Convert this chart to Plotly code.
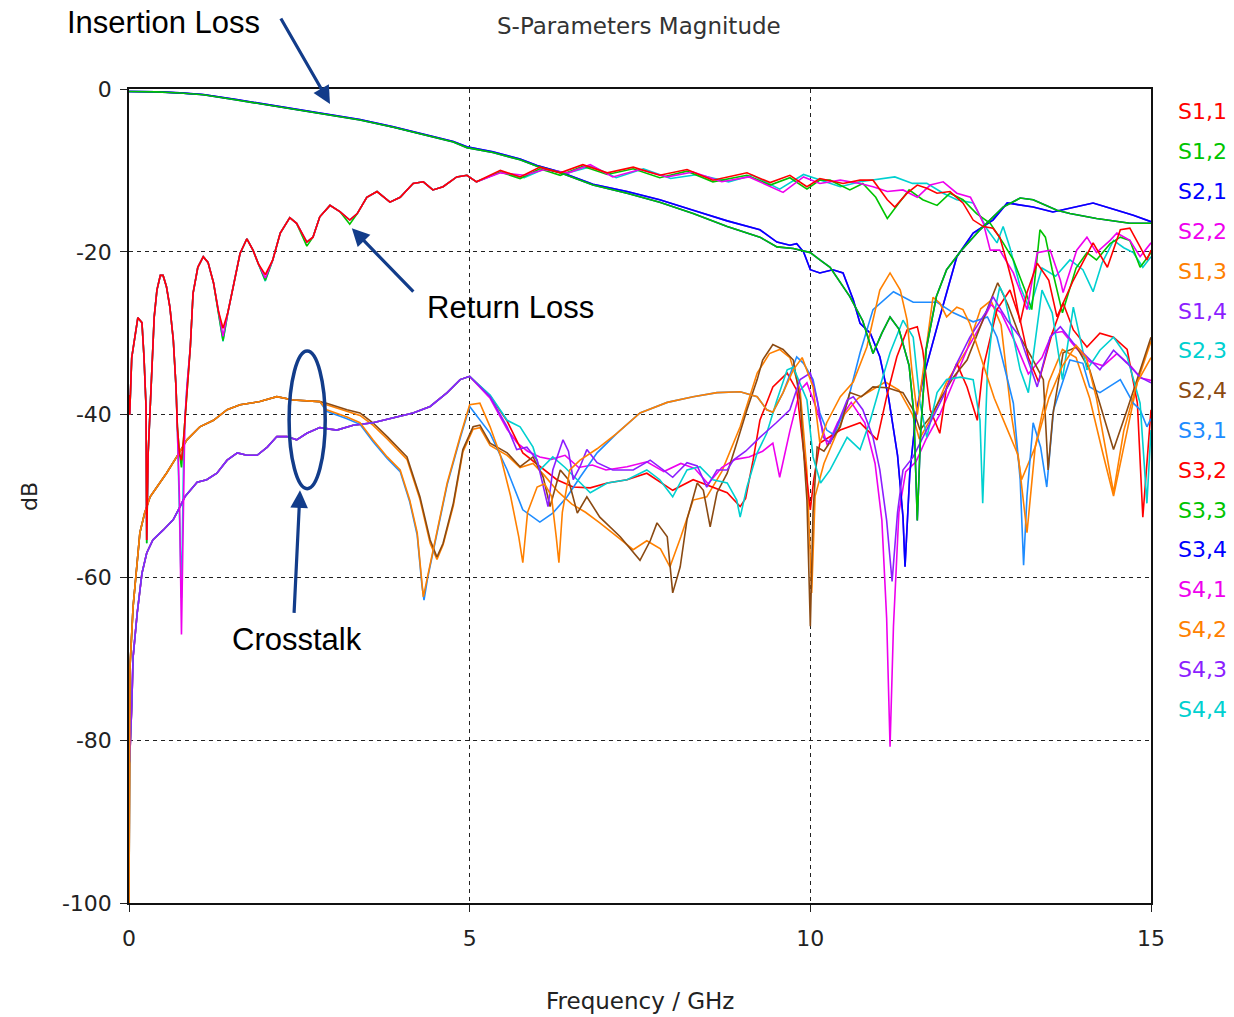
import plotly.graph_objects as go

# ---------------------------------------------------------------------------
# S-parameter magnitudes (dB) versus frequency (GHz)
# ---------------------------------------------------------------------------

# Return loss, low band (shared frequency grid)
RL_F_LOW = [0, 0.01, 0.04, 0.09, 0.13, 0.19, 0.22, 0.25, 0.26, 0.28, 0.31, 0.34, 0.37, 0.41, 0.46, 0.5,
            0.55, 0.6, 0.65, 0.69, 0.71, 0.74, 0.77, 0.8, 0.82, 0.85, 0.9, 0.94, 1.01, 1.09, 1.16, 1.24,
            1.31, 1.38, 1.45, 1.53, 1.63, 1.73, 1.82, 1.9, 2.0, 2.11, 2.22, 2.36, 2.46, 2.61, 2.7, 2.8,
            2.95, 3.1, 3.24, 3.35, 3.49, 3.64, 3.83, 3.98, 4.17, 4.32, 4.46, 4.61, 4.81, 4.96, 5.1]
S11_DB_LOW = [-37.6, -40, -33, -30, -28.1, -28.7, -32.9, -39, -55.4, -45, -39.8, -34.9, -28, -24.7, -22.9, -22.9,
              -24.3, -26.8, -30.8, -36.6, -41.5, -44.7, -45.6, -43.1, -40.7, -36.6, -31.7, -25.1, -21.9, -20.6, -21.3, -23.8,
              -27.2, -29.4, -27.5, -24.3, -20.2, -18.4, -19.8, -21.5, -22.8, -21, -17.7, -15.8, -16.5, -18.8, -18.2, -15.7,
              -14.3, -15.1, -16.1, -15.3, -13.3, -12.6, -13.9, -13.3, -11.6, -11.4, -12.4, -12, -10.8, -10.6, -11.4]
S33_DB_LOW = [-37.6, -40, -33, -30, -28.1, -28.7, -32.9, -39, -55.8, -45, -39.8, -34.9, -28, -24.7, -22.9, -22.9,
              -24.3, -26.8, -30.8, -36.6, -41.5, -44.7, -46.5, -43.1, -40.7, -36.6, -31.7, -25.1, -21.9, -20.6, -21.3, -23.8,
              -27.2, -30.9, -27.5, -24.3, -20.2, -18.4, -19.8, -21.5, -23.5, -21, -17.7, -15.8, -16.5, -19.3, -18.2, -15.7,
              -14.3, -15.1, -16.6, -15.3, -13.3, -12.6, -13.9, -13.3, -11.6, -11.4, -12.4, -12, -10.8, -10.6, -11.4]
S22_DB_LOW = [-37.6, -40, -33, -30, -28.1, -28.7, -32.9, -39, -55.4, -45, -39.8, -34.9, -28, -24.7, -22.9, -22.9,
              -24.3, -26.8, -30.8, -36.6, -41.5, -50, -67, -48, -40.7, -36.6, -31.7, -25.1, -21.9, -20.6, -21.3, -23.8,
              -27.2, -30.4, -27.5, -24.3, -20.2, -18.4, -19.8, -21.5, -23.2, -21, -17.7, -15.8, -16.5, -18.8, -18.2, -15.7,
              -14.3, -15.1, -16.1, -15.3, -13.3, -12.6, -13.9, -13.3, -11.6, -11.4, -12.4, -12, -10.8, -10.6, -11.4]
S44_DB_LOW = [-37.6, -40, -33, -30, -28.1, -28.7, -32.9, -39, -55.8, -45, -39.8, -34.9, -28, -24.7, -22.9, -22.9,
              -24.3, -26.8, -30.8, -36.6, -41.5, -52, -62.5, -46, -40.7, -36.6, -31.7, -25.1, -21.9, -20.6, -21.3, -23.8,
              -27.2, -31.0, -27.5, -24.3, -20.2, -18.4, -19.8, -21.5, -23.6, -21, -17.7, -15.8, -16.5, -18.8, -18.2, -15.7,
              -14.3, -15.1, -16.1, -15.3, -13.3, -12.6, -13.9, -13.3, -11.6, -11.4, -12.4, -12, -10.8, -10.6, -11.4]

# Return loss, high band
S11_F_HIGH = [5.45, 5.74, 6.03, 6.33, 6.66, 7.02, 7.4, 7.79, 8.19, 8.57, 9.07, 9.41, 9.7, 9.95, 10.14, 10.48,
              10.73, 10.92, 11.13, 11.24, 11.42, 11.57, 11.71, 11.86, 12.05, 12.24, 12.39, 12.54, 12.68, 12.78,
              12.89, 12.98, 13.08, 13.18, 13.33, 13.5, 13.62, 13.86, 14.15, 14.36, 14.55, 14.69, 14.84, 14.94, 15.0]
S11_DB_HIGH = [-10, -10.8, -9.6, -10.3, -9.3, -10.3, -9.6, -10.6, -9.9, -11.2, -10.3, -11.5, -10.6, -12, -11, -11.6,
               -11.2, -11.2, -13.6, -14.5, -12.8, -11.8, -12.2, -12.8, -12.6, -14.0, -16.1, -16.9, -17.1, -18.2,
               -21.4, -24.3, -28.7, -25, -21.4, -23.5, -28, -23.5, -18.9, -21.9, -17.3, -17.1, -19.4, -21, -19.8]
S33_F_HIGH = [5.45, 5.74, 6.03, 6.33, 6.66, 7.02, 7.4, 7.79, 8.19, 8.57, 9.07, 9.41, 9.7, 9.95, 10.14, 10.29,
              10.58, 10.77, 10.96, 11.13, 11.3, 11.45, 11.65, 11.86, 12.05, 12.24, 12.44, 12.64, 12.83, 12.98,
              13.15, 13.25, 13.37, 13.45, 13.55, 13.7, 13.9, 14.06, 14.2, 14.4, 14.55, 14.69, 14.84, 15.0]
S33_DB_HIGH = [-10.2, -11.0, -9.8, -10.6, -9.5, -10.5, -9.8, -10.9, -10.1, -11.4, -10.6, -11.8, -10.9, -12.3, -11.2, -11.2,
               -12.4, -11.6, -13.3, -15.9, -14, -12.4, -13.6, -14.3, -12.8, -13.6, -15.3, -16.5, -18.9, -21,
               -24.7, -27.1, -17.3, -18.2, -22.2, -27.5, -22, -20.1, -21, -19, -18.2, -18.6, -21.9, -20.1]
S22_F_HIGH = [5.45, 5.8, 6.1, 6.45, 6.77, 7.1, 7.5, 7.9, 8.28, 8.7, 9.1, 9.6, 9.9, 10.14, 10.44, 10.73,
              10.92, 11.13, 11.36, 11.57, 11.76, 11.95, 12.15, 12.35, 12.45, 12.54, 12.64, 12.78, 12.98, 13.18,
              13.33, 13.52, 13.67, 13.71, 13.91, 14.06, 14.2, 14.4, 14.5, 14.69, 14.84, 15.0]
S22_DB_HIGH = [-10.3, -10.6, -9.9, -10.3, -9.3, -10.8, -9.9, -10.8, -10.2, -11.4, -10.8, -12.7, -10.8, -11.6, -11.2, -11.6,
               -12.0, -12.6, -12.4, -13.3, -11.8, -11.4, -12.8, -13.3, -14.9, -16.5, -19.8, -19.8, -22.6, -27.1,
               -20.1, -19.8, -23.5, -25, -19.8, -18.2, -20.1, -18.6, -17.7, -18.6, -20.6, -18.9]
S44_F_HIGH = [5.45, 5.8, 6.1, 6.4, 6.8, 7.15, 7.55, 7.95, 8.35, 8.8, 9.15, 9.55, 9.9, 10.14, 10.44, 10.73,
              11.05, 11.24, 11.5, 11.71, 11.95, 12.15, 12.39, 12.6, 12.74, 12.83, 12.93, 13.08, 13.22, 13.4,
              13.6, 13.81, 14.0, 14.15, 14.28, 14.45, 14.6, 14.74, 14.88, 15.0]
S44_DB_HIGH = [-10.2, -10.9, -9.8, -10.4, -9.5, -10.9, -9.8, -11.0, -10.5, -11.4, -10.6, -12.3, -10.5, -11.2, -12.0, -11.4,
               -11.0, -10.8, -11.6, -11.6, -12.8, -13.6, -14.0, -17.3, -18.9, -16.9, -19.5, -24.3, -27.1, -22.0,
               -23.0, -21.0, -22.2, -24.9, -21.4, -18.6, -19.5, -20.1, -21.9, -20.6]

# Insertion loss
IL_A_F = [0, 0.4, 0.75, 1.09, 1.58, 2.07, 2.55, 3.0, 3.39, 3.88, 4.37, 4.76, 4.96, 5.15, 5.34, 5.74,
          5.99, 6.33, 6.81, 7.31, 7.79, 8.28, 8.78, 9.26, 9.51, 9.75, 10.0, 10.14, 10.29, 10.58, 10.77,
          10.92, 11.05, 11.17, 11.3, 11.45, 11.52, 11.57, 11.62, 11.7, 11.85, 12.0, 12.2, 12.49, 12.83,
          13.08, 13.27, 13.62, 13.81, 14.2, 14.69, 15.0]
IL_A_DB = [-0.3, -0.35, -0.5, -0.7, -1.35, -2.0, -2.6, -3.2, -3.8, -4.7, -5.7, -6.5, -7.2, -7.5, -7.8, -8.7,
           -9.5, -10.3, -11.8, -12.8, -13.9, -15.3, -16.9, -18.2, -19.4, -19.6, -20.1, -21.0, -21.9, -25.5, -28.5,
           -32.5, -30, -28, -29.5, -34, -40, -53, -42, -32, -25.5, -22.2, -20, -17.3, -14.5,
           -13.4, -13.6, -14.9, -15.3, -15.9, -16.5, -16.5]
IL_B_F = [0, 0.4, 0.75, 1.09, 1.58, 2.07, 2.55, 3.0, 3.39, 3.88, 4.37, 4.76, 4.96, 5.15, 5.34, 5.74,
          5.99, 6.33, 6.81, 7.31, 7.79, 8.28, 8.78, 9.26, 9.51, 9.7, 9.8, 9.9, 10.0, 10.14, 10.33,
          10.48, 10.63, 10.73, 10.88, 11.02, 11.15, 11.28, 11.36, 11.39, 11.42, 11.46, 11.55, 11.65, 11.9,
          12.15, 12.39, 12.68, 12.89, 13.27, 13.56, 13.86, 14.15, 14.5, 14.74, 15.0]
IL_B_DB = [-0.3, -0.33, -0.48, -0.68, -1.3, -1.95, -2.55, -3.15, -3.75, -4.65, -5.65, -6.45, -7.1, -7.4, -7.7, -8.6,
           -9.4, -10.2, -11.7, -12.6, -13.6, -14.9, -16.2, -17.3, -18.8, -19.2, -19.0, -20.0, -22.2, -22.6, -22.2,
           -22.6, -25.9, -28.8, -30, -32.9, -38, -45, -52.6, -58.7, -53, -47.2, -40, -35.7, -28,
           -20.6, -17.7, -16.1, -14, -14.5, -15.1, -14.5, -14.0, -14.9, -15.5, -16.3]

# Crosstalk pairs (1-3 / 2-4 family), shared low band
XT_OB_F_LOW = [0, 0.015, 0.06, 0.12, 0.16, 0.23, 0.31, 0.41, 0.55, 0.7, 0.85, 1.04, 1.24, 1.44, 1.63,
               1.92, 2.17, 2.41, 2.8]
XT_OB_DB_LOW = [-100, -71, -63.6, -57.9, -54.5, -52.1, -50.1, -48.9, -47.2, -45.2, -43.1, -41.5, -40.7, -39.4, -38.8,
                -38.4, -37.8, -38.2, -38.4]

S13_F = [2.9, 3.2, 3.39, 3.58, 3.79, 3.98, 4.12, 4.23, 4.3, 4.32, 4.38, 4.52, 4.67, 4.86, 5.0, 5.15,
         5.3, 5.45, 5.6, 5.72, 5.78, 5.85, 5.99, 6.1, 6.2, 6.27, 6.31, 6.36, 6.47, 6.62, 6.87, 7.16,
         7.5, 7.9, 8.28, 8.63, 8.97, 9.22, 9.36, 9.45, 9.6, 9.75, 9.88, 10.04, 10.14, 10.24, 10.44, 10.63,
         10.83, 11.02, 11.17, 11.32, 11.42, 11.49, 11.57, 11.65, 11.8, 11.9, 12.0, 12.15, 12.24, 12.34,
         12.5, 12.7, 12.9, 13.05, 13.18, 13.3, 13.5, 13.7, 13.9, 14.05, 14.2, 14.35, 14.45, 14.6, 14.8, 15.0]
S13_DB = [-39.4, -40.3, -41, -43.1, -45.2, -46.8, -50.5, -54.5, -60.7, -62.4, -60, -54.5, -48.4, -42.7, -38.8, -38.6,
          -41.5, -45, -50, -55, -58.2, -52, -48.9, -48.5, -50, -55, -58.2, -52, -46.8, -45.6, -44.2, -42.3,
          -39.8, -38.5, -37.8, -37.3, -37.2, -37.8, -39.4, -39.7, -37.3, -34.5, -33.0, -36.6, -43.5, -41, -37.8, -36,
          -31.7, -24.7, -22.6, -24.7, -28.4, -34.5, -40, -35, -25.6, -26.3, -28, -26.8, -27.1, -28.8,
          -33, -38, -42, -45, -54.5, -44, -38, -34, -31.5, -33, -38, -45, -49.6, -42, -36, -33]

S31_F = [2.9, 3.2, 3.39, 3.58, 3.79, 3.98, 4.12, 4.23, 4.3, 4.33, 4.38, 4.52, 4.67, 4.86, 5.0, 5.3,
         5.55, 5.78, 6.03, 6.22, 6.43, 6.62, 6.87, 7.16, 7.5, 7.9, 8.28, 8.63, 8.97, 9.22, 9.36, 9.45,
         9.6, 9.8, 9.9, 10.04, 10.14, 10.24, 10.35, 10.54, 10.73, 10.92, 11.22, 11.51, 11.86, 12.1, 12.39,
         12.6, 12.74, 12.98, 13.08, 13.13, 13.18, 13.27, 13.38, 13.47, 13.57, 13.81, 14.0, 14.1, 14.25,
         14.55, 14.74, 14.84, 14.94, 15.0]
S31_DB = [-39.6, -40.5, -41.2, -43.3, -45.4, -47, -50.7, -54.8, -61, -62.8, -60.2, -54.7, -48.6, -42.9, -39, -42.3,
          -46.8, -51.7, -53.2, -52.1, -50.1, -47.7, -44.7, -42.3, -39.8, -38.5, -37.8, -37.3, -37.2, -37.8, -39.4, -39.7,
          -37.3, -32.9, -33.7, -35.7, -39.8, -41.9, -42.5, -38.6, -32.4, -27.1, -24.9, -26.2, -26.2, -27.5, -28.6,
          -28, -30.5, -38.6, -48, -58.5, -50, -41, -44, -48.9, -39.4, -33.3, -33.7, -36.6, -37.3,
          -35.7, -38.6, -39.4, -41.5, -40.5]

S24_F = [2.9, 3.2, 3.39, 3.58, 3.79, 4.08, 4.27, 4.42, 4.52, 4.61, 4.76, 4.9, 5.05, 5.15, 5.3, 5.55,
         5.74, 5.93, 6.08, 6.18, 6.33, 6.45, 6.58, 6.72, 6.91, 7.21, 7.5, 7.65, 7.75, 7.9, 7.98, 8.09,
         8.19, 8.34, 8.43, 8.53, 8.63, 8.78, 8.92, 9.07, 9.22, 9.3, 9.45, 9.6, 9.75, 9.85, 9.95, 10.0,
         10.04, 10.1, 10.2, 10.44, 10.58, 10.75, 10.92, 11.13, 11.36, 11.51, 11.61, 11.76, 11.9, 12.1,
         12.3, 12.5, 12.75, 12.9, 13.08, 13.25, 13.42, 13.49, 13.56, 13.71, 13.91, 14.1, 14.25, 14.45,
         14.65, 14.84, 15.0]
S24_DB = [-38.6, -39.4, -39.8, -41, -42.7, -45.2, -50.1, -55.4, -57.5, -55.8, -50.9, -44.3, -41.5, -41.3, -43.5, -44.7,
          -46.4, -45.2, -47.7, -51.3, -46.8, -48, -52.1, -50.1, -52.6, -55.0, -57.9, -55.5, -53.3, -55, -61.9, -58.7,
          -52.9, -48.4, -49.3, -53.8, -49.6, -47.2, -43.5, -39.4, -35.7, -33.3, -31.4, -32.0, -33.3, -38.2, -50.5, -66,
          -52, -44, -44.5, -41.5, -37.3, -37.8, -36.6, -36.7, -37.3, -39.4, -41.9, -40.3, -38.2, -35.4,
          -33.3, -29, -23.8, -26.5, -30.5, -33, -35.7, -46.8, -40, -32.4, -31.7, -34.5, -38.6, -44.3,
          -39.4, -34.5, -30.5]

S42_F = [2.9, 3.2, 3.39, 3.58, 3.79, 4.08, 4.27, 4.42, 4.52, 4.61, 4.76, 4.9, 5.05, 5.15, 5.3, 5.55,
         5.74, 5.93, 6.1, 6.3, 6.5, 6.7, 6.91, 7.21, 7.4, 7.6, 7.8, 7.94, 8.1, 8.28, 8.48, 8.7,
         8.97, 9.22, 9.4, 9.55, 9.7, 9.85, 9.95, 10.02, 10.07, 10.2, 10.5, 10.7, 10.9, 11.1, 11.3,
         11.5, 11.6, 11.8, 12.0, 12.3, 12.5, 12.65, 12.8, 12.95, 13.1, 13.3, 13.5, 13.7, 13.9, 14.1,
         14.3, 14.45, 14.6, 14.8, 15.0]
S42_DB = [-38.8, -39.6, -40.1, -41.3, -43, -45.5, -50.4, -55.8, -57.8, -56, -51.2, -44.6, -41.8, -41.6, -43.8, -45,
          -46.5, -46, -47.5, -49.5, -51, -52, -53.3, -55.3, -56.6, -55.5, -56.5, -58.7, -55, -50.5, -50.1, -47,
          -41.5, -34.9, -32.5, -32, -33, -37, -47, -61.9, -50, -46, -40, -38, -37, -36, -37,
          -40, -43, -40, -36, -32, -27, -26, -29, -40, -48, -44, -36, -32, -33, -38,
          -45, -50, -44, -36, -31]

# Crosstalk pairs (1-4 / 2-3 family), shared low band
XT_A_F_LOW = [0, 0.01, 0.04, 0.06, 0.12, 0.19, 0.26, 0.35, 0.5, 0.65, 0.75, 0.82, 0.9, 1.0, 1.14, 1.29,
              1.44, 1.59, 1.73, 1.88, 2.03, 2.17, 2.32, 2.46, 2.61, 2.8, 3.05, 3.29, 3.58, 3.88, 4.17,
              4.42, 4.67, 4.86, 5.0]
XT_A_DB_LOW = [-83, -82.4, -75.9, -69.8, -64.4, -59.5, -57, -55.4, -54.2, -52.9, -51.3, -50.1, -49.3, -48.3, -48, -47.2,
               -45.6, -44.7, -45, -45, -44, -42.7, -42.7, -43.1, -42.3, -41.6, -41.9, -41.3, -41, -40.4, -39.8,
               -39, -37.3, -35.7, -35.3]

S14_F = [5.3, 5.55, 5.69, 5.84, 5.99, 6.08, 6.15, 6.22, 6.37, 6.45, 6.52, 6.62, 6.72, 6.87, 7.1, 7.4,
         7.65, 7.84, 7.98, 8.19, 8.34, 8.48, 8.63, 8.78, 8.87, 9.05, 9.26, 9.5, 9.7, 9.85, 10.0, 10.1,
         10.19, 10.29, 10.54, 10.63, 10.77, 10.92, 11.02, 11.12, 11.2, 11.28, 11.36, 11.51, 11.65, 11.8,
         11.95, 12.15, 12.34, 12.6, 12.68, 12.89, 13.08, 13.33, 13.52, 13.67, 13.86, 14.06, 14.25, 14.45,
         14.65, 14.84, 15.0]
S14_DB = [-37.8, -41.5, -44.3, -44, -45.6, -48.9, -51.3, -46.8, -43.1, -44.5, -48, -46.4, -44.3, -45.9, -46.8, -46.8,
          -45.6, -46.8, -47.7, -45.9, -46.3, -48.9, -46.8, -46.8, -45.6, -44.5, -42.8, -41, -39.4, -35.7, -34.9, -38.2,
          -42.8, -43.5, -38.2, -37.8, -39.4, -42.8, -46.8, -53, -60.5, -52, -46.8, -45.2, -42.8, -40.3,
          -37.8, -33.7, -30.5, -27.1, -25.5, -28.4, -30.5, -36.6, -30.5, -29.2, -31.2, -32.9, -34.5, -32.1,
          -33.7, -35.4, -36.1]

S41_F = [5.3, 5.55, 5.7, 5.85, 6.03, 6.2, 6.4, 6.6, 6.8, 7.0, 7.31, 7.6, 7.85, 8.1, 8.3, 8.5,
         8.7, 8.9, 9.1, 9.3, 9.45, 9.55, 9.7, 9.85, 9.95, 10.1, 10.25, 10.4, 10.6, 10.8, 10.95, 11.05,
         11.12, 11.17, 11.22, 11.3, 11.4, 11.55, 11.7, 11.9, 12.1, 12.3, 12.5, 12.65, 12.8, 13.0, 13.2,
         13.4, 13.55, 13.7, 13.9, 14.1, 14.3, 14.5, 14.7, 14.85, 15.0]
S41_DB = [-38.0, -41.8, -43.5, -44.5, -45.2, -45.5, -45, -46.5, -46.2, -46.8, -46.4, -45.8, -47, -46, -46.6, -48.5,
          -46.5, -45.5, -45.2, -44.5, -43.5, -47.7, -42, -37, -36.1, -39.5, -43.8, -41, -38.5, -41, -46, -53,
          -65, -80.8, -66, -52, -47, -45.8, -43, -40, -36, -32, -29, -26.5, -27.5, -31, -35,
          -33, -30, -29.8, -31.8, -33.5, -34, -32.5, -34, -35.5, -35.8]

S23_F = [5.3, 5.55, 5.74, 5.93, 6.03, 6.22, 6.4, 6.62, 6.77, 7.02, 7.31, 7.6, 7.79, 7.98, 8.19, 8.38,
         8.57, 8.78, 8.92, 8.97, 9.07, 9.22, 9.36, 9.51, 9.66, 9.75, 9.95, 10.04, 10.15, 10.29, 10.54,
         10.73, 10.88, 11.02, 11.17, 11.36, 11.51, 11.61, 11.71, 11.86, 12.0, 12.2, 12.39, 12.49, 12.53,
         12.6, 12.68, 12.78, 12.85, 12.98, 13.08, 13.2, 13.4, 13.55, 13.7, 13.86, 14.06, 14.25, 14.45,
         14.65, 14.84, 14.94, 15.0]
S23_DB = [-37.6, -40.7, -41.5, -44, -46.8, -45.2, -46.5, -48.4, -49.6, -48.4, -48, -46.8, -48, -50.1, -46.8, -46.4,
          -48, -48.4, -50.5, -52.6, -48.9, -44.7, -42.3, -38.2, -34.5, -34.2, -38.2, -45.2, -48.4, -46.8, -42.8,
          -44.3, -40.7, -36.6, -32.4, -28.4, -30.5, -38.6, -42.8, -37.3, -35.7, -35.4, -35.7, -40.7, -50.9,
          -34.5, -28.4, -24.3, -25.5, -30.5, -34.5, -37.3, -24.7, -27.5, -35.7, -26.8, -34.5, -32.1, -30.5,
          -32.9, -38.6, -50.9, -41.9]

S32_F = [5.3, 5.55, 5.78, 6.03, 6.28, 6.52, 6.77, 7.02, 7.31, 7.6, 7.98, 8.28, 8.5, 8.78, 8.97, 9.05,
         9.16, 9.26, 9.45, 9.66, 9.8, 9.95, 10.0, 10.05, 10.14, 10.44, 10.73, 10.98, 11.12, 11.27, 11.42,
         11.57, 11.65, 11.76, 11.9, 12.0, 12.15, 12.3, 12.45, 12.53, 12.74, 12.93, 13.08, 13.2, 13.35,
         13.55, 13.71, 13.86, 14.06, 14.25, 14.45, 14.65, 14.8, 14.88, 14.95, 15.0]
S32_DB = [-37.7, -40.8, -44.7, -46.3, -48, -48.9, -49, -48.4, -48, -47.2, -49.3, -48, -48.7, -49.6, -51.3, -50.3,
          -45.6, -40.7, -36.6, -34.9, -37, -47.7, -51.7, -48, -43.5, -41.9, -41, -43.1, -37.8, -32.9, -29.6,
          -29.2, -32.1, -39.4, -42.3, -36.6, -33.7, -36.6, -40.7, -34.5, -27.1, -24.7, -28.4, -33, -36,
          -30, -26.3, -29.6, -31.7, -30, -30.5, -32, -38.6, -52.6, -45, -39.4]

# Axis ticks
X_TICKS = [0, 5, 10, 15]
X_TICK_TEXT = ["0", "5", "10", "15"]
Y_TICKS = [0, -20, -40, -60, -80, -100]
Y_TICK_TEXT = ["0", "-20", "-40", "-60", "-80", "-100"]

# Trace labels in legend order
LEGEND_ORDER = ["S1,1", "S1,2", "S2,1", "S2,2", "S1,3", "S1,4", "S2,3", "S2,4",
                "S3,1", "S3,2", "S3,3", "S3,4", "S4,1", "S4,2", "S4,3", "S4,4"]

RED, GREEN, BLUE, MAGENTA = "#FF0000", "#00C400", "#0000FF", "#EE00EE"
ORANGE, PURPLE, CYAN, BROWN, SKY = "#FF8000", "#8C1EFF", "#00D0D0", "#8B4A12", "#1E8CFF"

SERIES = {
    "S1,1": (RL_F_LOW + S11_F_HIGH, S11_DB_LOW + S11_DB_HIGH, RED),
    "S1,2": (IL_A_F, IL_A_DB, GREEN),
    "S2,1": (IL_A_F, IL_A_DB, BLUE),
    "S2,2": (RL_F_LOW + S22_F_HIGH, S22_DB_LOW + S22_DB_HIGH, MAGENTA),
    "S1,3": (XT_OB_F_LOW + S13_F, XT_OB_DB_LOW + S13_DB, ORANGE),
    "S1,4": (XT_A_F_LOW + S14_F, XT_A_DB_LOW + S14_DB, PURPLE),
    "S2,3": (XT_A_F_LOW + S23_F, XT_A_DB_LOW + S23_DB, CYAN),
    "S2,4": (XT_OB_F_LOW + S24_F, XT_OB_DB_LOW + S24_DB, BROWN),
    "S3,1": (XT_OB_F_LOW + S31_F, XT_OB_DB_LOW + S31_DB, SKY),
    "S3,2": (XT_A_F_LOW + S32_F, XT_A_DB_LOW + S32_DB, RED),
    "S3,3": (RL_F_LOW + S33_F_HIGH, S33_DB_LOW + S33_DB_HIGH, GREEN),
    "S3,4": (IL_B_F, IL_B_DB, BLUE),
    "S4,1": (XT_A_F_LOW + S41_F, XT_A_DB_LOW + S41_DB, MAGENTA),
    "S4,2": (XT_OB_F_LOW + S42_F, XT_OB_DB_LOW + S42_DB, ORANGE),
    "S4,3": (IL_B_F, IL_B_DB, PURPLE),
    "S4,4": (RL_F_LOW + S44_F_HIGH, S44_DB_LOW + S44_DB_HIGH, CYAN),
}

fig = go.Figure()
# first legend entry is painted last so it sits on top
for name in reversed(LEGEND_ORDER):
    f, db, col = SERIES[name]
    fig.add_trace(go.Scatter(x=f, y=db, mode="lines", name=name,
                             line=dict(color=col, width=1.6), showlegend=False,
                             hoverinfo="x+y+name"))

# plot frame in pixels
L, R, T, B = 129, 1151, 89, 903
W, H = 1234, 1017


def px(x):
    return (x - L) / (R - L)


def py(y):
    return (B - y) / (B - T)


TICK_FONT = dict(family="DejaVu Sans", size=22, color="#222222")
NAVY = "#123C8A"

axis_common = dict(showline=True, linecolor="#111111", linewidth=1.5, mirror=True,
                   showgrid=True, gridcolor="#222222", gridwidth=1.3, griddash="4px,4px",
                   zeroline=False, ticks="outside", ticklen=7, tickcolor="#222222",
                   tickfont=TICK_FONT)

fig.update_layout(
    width=W, height=H, autosize=False,
    margin=dict(l=L, r=W - R, t=T, b=H - B, pad=0),
    paper_bgcolor="white", plot_bgcolor="white",
    xaxis=dict(range=[0, 15], tickvals=X_TICKS, ticktext=X_TICK_TEXT, ticklabelstandoff=8, **axis_common),
    yaxis=dict(range=[-100, 0], tickvals=Y_TICKS, ticktext=Y_TICK_TEXT, ticklabelstandoff=4, **axis_common),
)


def label(text, x, y, font, **extra):
    return dict(text=text, x=px(x), y=py(y), xref="paper", yref="paper",
                xanchor=extra.pop("xanchor", "center"), yanchor="middle",
                showarrow=False, font=font, **extra)


ann = []
# chart and axis titles
ann.append(label("S-Parameters Magnitude", 639, 26, dict(family="DejaVu Sans", size=23, color="#333333")))
ann.append(label("Frequency / GHz", 640, 1001, dict(family="DejaVu Sans", size=23, color="#222222")))
ann.append(label("dB", 30, 497, dict(family="DejaVu Sans", size=22, color="#222222"), textangle=-90))

# coloured legend column
for i, name in enumerate(LEGEND_ORDER):
    ann.append(label(name, 1176, 112 + i * 39.8,
                     dict(family="DejaVu Sans", size=22, color=SERIES[name][2]), xanchor="left"))

# callout labels
LABEL_FONT = dict(family="Liberation Sans", size=31, color="#000000")
ann.append(label("Insertion Loss", 163, 23, LABEL_FONT))
ann.append(label("Return Loss", 510, 307, LABEL_FONT))
ann.append(label("Crosstalk", 297, 639, LABEL_FONT))

# callout arrows (tip in data units, tail offset in pixels)
for tip_f, tip_db, dx, dy in [(2.95, -1.84, -50, -87), (3.27, -17.1, 63, 65), (2.51, -49.3, -6, 124)]:
    ann.append(dict(x=tip_f, y=tip_db, xref="x", yref="y", ax=dx, ay=dy, text="",
                    showarrow=True, arrowhead=2, arrowsize=1.1, arrowwidth=3.2, arrowcolor=NAVY,
                    standoff=0))

fig.update_layout(annotations=ann)

# ellipse around the crosstalk group
fig.add_shape(type="circle", xref="x", yref="y", x0=2.35, x1=2.88, y0=-49.1, y1=-32.2,
              line=dict(color=NAVY, width=3.5))

fig.write_html("out.html")
